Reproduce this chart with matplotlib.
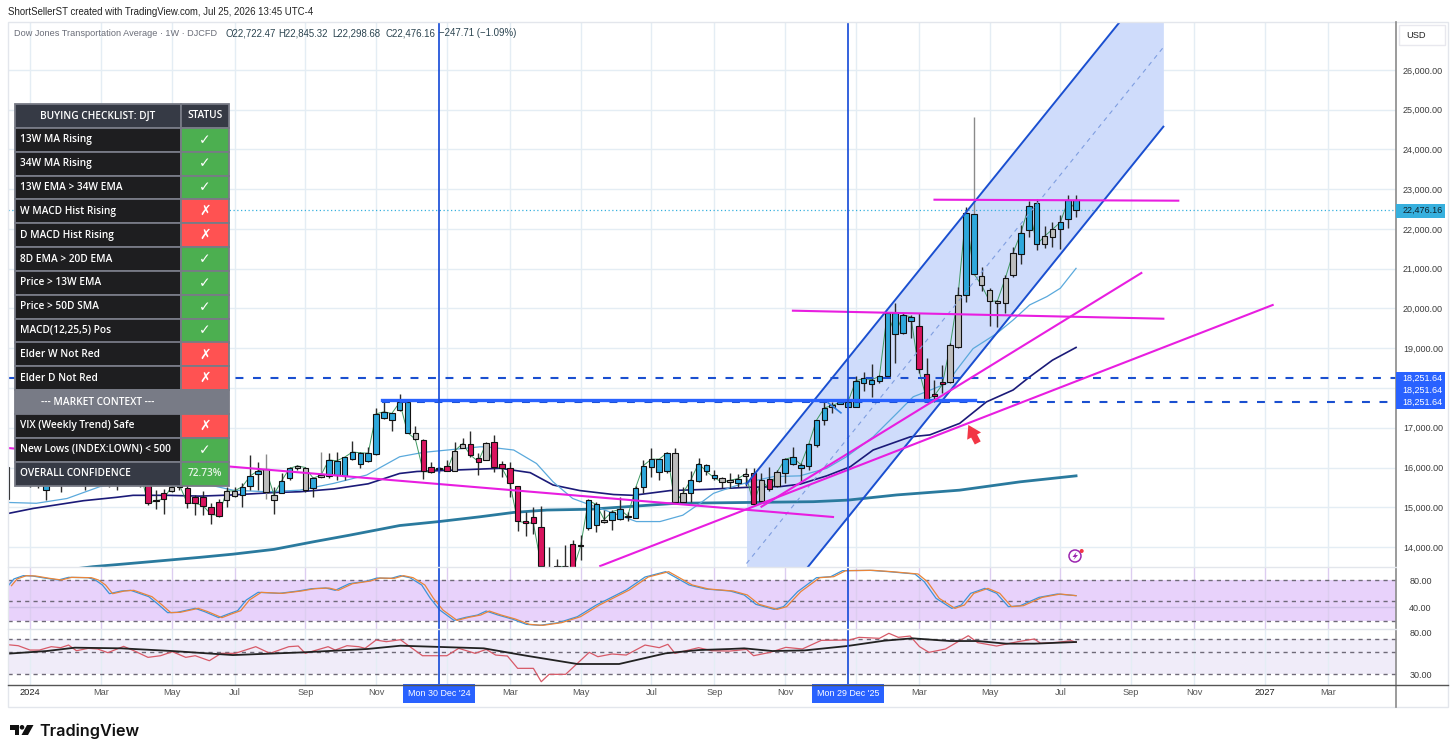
import matplotlib
matplotlib.use("Agg")
import matplotlib.pyplot as plt
from matplotlib.patches import Rectangle, Polygon, Circle
from matplotlib.transforms import blended_transform_factory as blend

nan = float("nan")
W, H = 1456, 755
UI = "Liberation Sans"

# ---- weekly candles: week 0 is the week of 30 Dec 2024 ----
first_week = -55
opens = [15220,nan,15650,15700,15700,15434,15650,15700,15700,15700,
 15700,15700,15700,15700,15700,15700,15700,15700,15800,15190,
 15350,15410,15500,15490,15250,15270,15000,15120,15180,15280,
 15310,15540,15830,15390,15180,15370,15730,15990,15430,15480,
 15750,15790,15810,15790,16210,16100,16170,16330,17240,17190,
 17450,17640,16880,16680,16020,15950,16050,15900,16500,16580,
 16250,16200,16650,16100,16000,15530,14650,14750,14500,13450,
 13520,13520,14080,14050,14470,14550,14640,14680,14700,14760,
 14740,15520,16010,15880,15900,16360,15140,15370,15650,16070,
 15820,15740,15630,15620,15780,15870,15150,15700,15530,15850,
 16080,16000,16040,16560,17190,17510,17610,17530,17520,18130,
 18110,18170,18310,19890,19390,19680,19560,18360,17840,18160,
 18140,19040,20340,22370,20820,20470,20130,20130,20830,21360,
 21970,22660,21610,21790,21990,22240,22722]
closes = [16020,nan,15800,15900,15850,15700,15850,15900,15900,15900,
 15900,15900,15900,15900,15900,15900,15900,15900,15100,15160,
 15210,15520,15560,15100,15100,15040,14820,14790,15410,15410,
 15520,15790,15920,15950,15320,15670,15980,16040,16000,15730,
 15810,16190,16170,16260,16390,16370,16360,17350,17400,17360,
 17640,16880,16710,15900,15880,16000,15920,16420,16600,16310,
 16150,16610,16020,15990,15620,14650,14610,14600,13520,13300,
 13500,13510,13400,14020,15170,15070,14690,14890,14950,14780,
 15490,16050,16210,16210,16370,15120,15350,15680,16100,15900,
 15740,15630,15680,15720,15840,15070,15690,15450,15890,16210,
 16260,16070,16580,17190,17500,17560,17640,17650,18180,18240,
 18210,18290,19895,19350,19840,19790,18470,17710,17810,18090,
 19080,20340,22410,20880,20580,20180,20190,20760,21400,21910,
 22580,21610,21820,21990,22170,22720,22476.16]
highs = [16100,nan,15900,16000,16000,15800,15950,16000,16000,16000,
 16000,16000,16000,16000,16000,16000,16000,16000,15900,15430,
 15450,15700,15700,15700,15300,15420,15100,15200,15500,15500,
 15600,16310,16150,16340,15520,15850,16020,16060,16020,15770,
 16400,16370,16400,16270,16670,16400,16520,17490,17660,17380,
 17840,17640,17050,16710,16150,16020,16190,16630,16730,16920,
 16360,16650,16820,16160,16150,15540,14870,15010,15030,14010,
 13710,14050,14180,14300,15200,15140,14930,14930,15250,14890,
 15530,16190,16480,16210,16400,16480,15520,15900,16230,16100,
 15940,15770,15850,15830,15980,15980,15850,16020,15940,16230,
 16520,16120,16620,17190,17700,17660,17670,17660,18290,18410,
 18600,18330,19920,20150,19880,19840,19890,18750,18200,18580,
 19120,20550,22560,24825,21050,20510,20210,20840,21550,22100,
 22710,22750,22080,22180,22350,22855,22845.32]
lows = [15150,nan,15600,15500,15480,15180,15600,15390,15650,15650,
 15430,15650,15650,15500,15430,15650,15650,15500,15060,14950,
 14820,15380,15440,14970,14800,14800,14570,14750,15000,15250,
 15010,15430,15430,15220,14830,15350,15690,15940,15390,15250,
 15730,15730,15690,15690,16190,16000,16150,16310,17210,16930,
 17430,16860,16690,15700,15870,15850,15900,15900,16480,16270,
 15810,16190,15880,15770,15270,14410,14280,14330,13400,13200,
 13400,13400,13300,13670,14440,14390,14600,14440,14680,14660,
 14720,15350,15770,15690,15850,15100,15120,15120,15640,15810,
 15690,15480,15480,15520,15530,15060,15140,15420,15520,15600,
 16060,15600,15940,16510,17070,17360,17590,17510,17510,17930,
 17780,18120,18290,18620,19360,19250,18370,17660,17660,17870,
 18120,19000,20170,20840,20450,19560,19540,19880,20800,21120,
 21790,21470,21530,21550,21500,22020,22298.68]
impulse = list("bbbbbbbbbb" "bbbbbbbbrr" "rgbrrrrrgg" "bbbggbbggb" "gbbbbbbbbb"
               "bbgrrbrggr" "rgrrrrrrrr" "rrrrbbgbbg" "bbbbbggbbb" "bggbgrgrgb"
               "bbbbbgbbbb" "bbbbbbrrrr" "ggbbgggggb" "bbggbbb")
gray_wick_weeks = [-22, -15, 68]

# ---- moving averages, read at the weeks listed ----
ma13_weeks = [-54.7,-51.2,-47.3,-43.1,-35.9,-28.7,-26.2,-21.9,-17.7,-13.4,-9.2,-5,-2,5.2,6,9.5,12.4,14.5,17,19.2,22.2,25.1,28.1,31,33.2,34.9,37.4,39.5,42.5,45.9,49.3,51.8,55.2,58.2,60.3,62,64.6,65.8,67.9,70.9,73,75.1,77.3,79,81]
ma13_values = [15120,15100,15220,15520,15770,15540,15430,15390,15430,15600,15810,16270,16380,16520,16520,16440,16100,15640,15220,15060,14850,14640,14640,14800,15100,15350,15520,15640,15770,15790,15980,16270,16770,17360,17780,17910,18120,18450,18990,19370,19710,20090,20300,20510,21010]
ma34_weeks = [-54.7,-51.6,-45.2,-41,-38.9,-34.6,-30.4,-26.2,-21,-17.7,-13.4,-9,-5,-2.8,0,5.2,7.8,11.6,14.5,17.9,22.2,24.7,29.4,34,39.1,43.4,45.9,49.3,52.3,55.2,59.9,62.4,66.2,69.6,73,75.1,78,81]
ma34_values = [14847,14970,15165,15250,15300,15300,15280,15310,15370,15390,15460,15590,15850,15900,15920,15960,15980,15870,15560,15420,15320,15300,15420,15450,15500,15520,15580,15790,16020,16440,16770,16820,17110,17650,17950,18280,18700,19020]
ma200_weeks = [-50,-44,-36.7,-30.4,-26.2,-21,-16,-11.3,-5,0,5.2,9.5,13.7,19.2,25.1,30.2,39.1,47.6,52,58.2,66.2,73.9,81]
ma200_values = [13360,13505,13630,13740,13820,13940,14130,14300,14540,14640,14760,14870,14930,14950,15030,15100,15120,15140,15180,15310,15430,15640,15790]

# ---- drawings: (week, price) ends ----
channel_weeks = [39.1, 92.1]
channel_upper = [15585, 28566]
channel_middle = [13585, 26570]
channel_lower = [11585, 24574]
trend_a_weeks, trend_a_prices = [20.5, 106.0], [13522, 20088]
trend_b_weeks, trend_b_prices = [41.0, 89.3], [15014, 20893]
fall_weeks, fall_prices = [-54.8, 50.1], [16490, 14755]
flat_a_weeks, flat_a_prices = [63, 94], [22737, 22712]
flat_b_weeks, flat_b_prices = [45, 92.1], [19945, 19743]
level_dash_upper = 18260
level_dash_lower = 17660
level_dash_lower_start = -7.2
level_solid_weeks, level_solid_price = [-7.2, 68.2], 17698
tick_weeks, tick_prices = [49.5, 51.1], [17625, 17375]
arrow_tip, arrow_tail = (67.3, 17070), (68.5, 16617)
last_close = 22476.16
cycle_weeks = [0, 52]

# ---- panes ----
k_weeks = [-54.76,-54.05,-52.86,-51.68,-49.9,-48.4,-47.1,-44.6,-43.7,-42.8,-41.9,-40.4,-39.2,-38.1,-36.9,-35.7,-34.5,-33.3,-31,-29.8,-28,-26.8,-25.6,-24.5,-23,-20.3,-17.9,-16.2,-14.4,-13.2,-11.4,-9.1,-7.9,-6.1,-4.9,-3.7,-2.2,-1.1,0.1,1.9,3.4,4.9,6,7.5,9.3,11.1,12.8,15.2,17.6,20,23.8,26.2,28.8,31.8,33.9,37,38.8,40.3,42.6,43.8,45.6,48,49.8,51.3,54.8,57.2,60.5,61.7,63.2,65.2,66.4,67.6,69.4,70.9,72.4,73.9,76.3,78.6,81]
k_values = [72.1,82,86.9,86.4,82.9,80.5,84.4,83.9,80.5,73.1,60.2,64.2,65.2,60.7,55.8,44.4,32.1,32.6,38.5,33.6,24.7,30.1,35.1,50.9,62.2,60.7,64.2,67.6,68.6,65.2,75,79,83.4,82.9,86.9,83.9,73.1,53.3,36,20.7,25.2,28.6,34.5,28.6,22.7,14.8,13.3,17.3,26.2,43.4,65.7,84.9,92.8,73.1,67.1,64.2,58.3,44.4,37,41,63.2,83.9,85.4,94.3,94.8,92.8,89.4,78,53.3,38.5,43.4,60.7,68.1,60.7,41,42.4,54.8,59.7,57.3]
d_weeks = [-54.36,-53.65,-52.46,-51.28,-49.5,-48,-46.7,-44.2,-43.3,-42.4,-41.5,-40,-38.8,-37.7,-36.5,-35.3,-34.1,-32.9,-30.6,-29.4,-27.6,-26.4,-25.2,-24.1,-22.6,-19.9,-17.5,-15.8,-14,-12.8,-11,-8.7,-7.5,-5.7,-4.5,-3.3,-1.8,-0.7,0.5,2.3,3.8,5.3,6.4,7.9,9.7,11.5,13.2,15.6,18,20.4,24.2,26.6,29.2,32.2,34.3,37.4,39.2,40.7,43,44.2,46,48.4,50.2,51.7,55.2,57.6,60.9,62.1,63.6,65.6,66.8,68,69.8,71.3,72.8,74.3,76.7,79,81]
d_values = [72.1,82,86.9,86.4,82.9,80.5,84.4,83.9,80.5,73.1,60.2,64.2,65.2,60.7,55.8,44.4,32.1,32.6,38.5,33.6,24.7,30.1,35.1,50.9,62.2,60.7,64.2,67.6,68.6,65.2,75,79,83.4,82.9,86.9,83.9,73.1,53.3,36,20.7,25.2,28.6,34.5,28.6,22.7,14.8,13.3,17.3,26.2,43.4,65.7,84.9,92.8,73.1,67.1,64.2,58.3,44.4,37,41,63.2,83.9,85.4,94.3,94.8,92.8,89.4,78,53.3,38.5,43.4,60.7,68.1,60.7,41,42.4,54.8,59.7,57.3]
rsi_weeks = [-54.8,-53.5,-52,-50.8,-49.3,-48.1,-47.1,-46.1,-44.6,-43.4,-42.1,-40.1,-38.7,-37,-35.4,-33.9,-32.2,-31,-29.2,-27.7,-25.9,-23.3,-21.5,-19.1,-17.9,-17,-14.1,-13.2,-11.7,-10.2,-9.4,-8,-6.7,-4.9,-3.7,-2.1,1,2.5,4.6,6,7.2,8.7,10,12,13,14,16.1,19.1,20.2,22,23.8,26.2,28,29.1,30,33,34.7,37,39.1,40,42.1,44.1,46.2,48.6,52.2,53.4,56,57.2,58.4,59.9,61.1,62.3,64.4,67.3,68.5,70.9,73.6,75.7,76.5,78.6,80.4,81]
rsi_values = [65.7,64.5,59.2,59.2,63.3,62.1,65.3,58.4,61.3,60.5,56,63.7,58,50.3,52.3,57.2,50.3,52.3,46.2,55.2,55.2,63.3,55.2,63.3,64.1,55.2,63.3,59.2,64.5,63.3,61.3,71.4,69.4,71.8,63.3,52.3,52.3,61.3,55.2,60,53.1,51.9,36.9,36.9,20.6,29.6,29.6,56.4,51.1,54.4,53.1,65.3,62.1,66.2,55.2,62.1,58.4,58,60,52.3,56.4,62.5,60.5,71,71.4,74.7,73.5,79.6,74.7,76.3,63.3,56.4,60.5,76.7,68.2,64.1,69.4,72.7,67.4,68.6,70.6,68.6]
rsi_ma_weeks = [-54.8,-49.9,-46.3,-40.4,-33.9,-26.2,-17.3,-9.1,-4.9,5.7,11.1,17.6,22.9,28.8,33,37,38.8,42.4,46.5,51.9,56.6,60.2,65,68.5,72.1,75.7,81]
rsi_ma_values = [54.8,58,62.1,61.3,58,53.1,56.4,60.5,64.5,61.3,52.3,42.2,42.2,55.2,59.2,60.5,61.3,58,58.8,64.1,70.6,73.5,70.2,70.2,67,67,69]

# ---- axes labels ----
month_weeks = [-52,-43,-34,-26,-17,-8,1,9,18,27,35,44,53,61,70,79,88,96,105,113]
month_labels = ["2024","Mar","May","Jul","Sep","Nov","","Mar","May","Jul","Sep","Nov","","Mar","May","Jul","Sep","Nov","2027","Mar"]
price_ticks = [14000,15000,16000,17000,18000,19000,20000,21000,22000,23000,24000,25000,26000]
cycle_labels = ["Mon 30 Dec '24", "Mon 29 Dec '25"]
level_labels = ["18,251.64", "18,251.64", "18,251.64"]

# ---- checklist ----
check_rows = ["13W MA Rising","34W MA Rising","13W EMA > 34W EMA","W MACD Hist Rising","D MACD Hist Rising",
              "8D EMA > 20D EMA","Price > 13W EMA","Price > 50D SMA","MACD(12,25,5) Pos","Elder W Not Red",
              "Elder D Not Red","VIX (Weekly Trend) Safe","New Lows (INDEX:LOWN) < 500"]
check_pass = [True,True,True,False,False,True,True,True,True,False,False,False,True]
confidence = "72.73%"

# ---- colours ----
GRID = "#e4edf4"; BLUE = "#1a4fd0"; MAG = "#e81ee0"
fill = {"b": "#2ea8dc", "r": "#d8145e", "g": "#bdbdbd"}

fig = plt.figure(figsize=(W / 100, H / 100), dpi=100, facecolor="white")
def box(l, t, r, b, **kw):
    return fig.add_axes([l / W, 1 - b / H, (r - l) / W, (b - t) / H], **kw)

XL = (-54.8, 121.68)
ax = box(8, 22, 1396, 567)
p1 = box(8, 567.5, 1396, 629)
p2 = box(8, 629.3, 1396, 685)
tm = box(8, 685, 1396, 707)
for a in (ax, p1, p2, tm):
    a.set_xlim(*XL)
    for s in a.spines.values():
        s.set_visible(False)
    a.set_xticks(month_weeks)
    a.tick_params(length=0, labelbottom=False)
    a.yaxis.tick_right()
    a.set_axisbelow(True)
    a.grid(True, axis="x", color=GRID, lw=1)
    a.set_yticks([])

# ---- main price pane ----
ax.set_ylim(13497, 27207)
ax.set_yticks(price_ticks)
ax.set_yticklabels([f"{v:,.2f}" for v in price_ticks], fontsize=6.5, color="#3c3c3c", family=UI)
ax.tick_params(axis="y", pad=5)
ax.grid(True, axis="y", color=GRID, lw=1)
ax.fill_between(channel_weeks, channel_lower, channel_upper, color="#cfdcfb", lw=0, zorder=1)
ax.plot(ma200_weeks, ma200_values, color="#2a7a9e", lw=2.0, zorder=2)
ax.plot(ma34_weeks, ma34_values, color="#1b1a78", lw=1.2, zorder=2)
ax.plot(ma13_weeks, ma13_values, color="#5aa9dc", lw=0.9, zorder=2)
weeks = list(range(first_week, first_week + len(opens)))
ax.plot(weeks, closes, color="#3f9a63", lw=0.7, zorder=2.5)
wick_col = ["#8a8a8a" if w in gray_wick_weeks else "#2a2a2a" for w in weeks]
ax.vlines(weeks, lows, highs, colors=wick_col, lw=1.0, zorder=2.7)
ax.bar(weeks, [abs(c - o) for o, c in zip(opens, closes)],
       bottom=[min(o, c) for o, c in zip(opens, closes)], width=0.7,
       color=[fill[c] for c in impulse], edgecolor="#111111", lw=0.8, zorder=3)
ax.plot(channel_weeks, channel_upper, color=BLUE, lw=1.4, zorder=4)
ax.plot(channel_weeks, channel_lower, color=BLUE, lw=1.4, zorder=4)
ax.plot(channel_weeks, channel_middle, color="#7f9ee0", lw=0.8, ls=(0, (4, 4)), zorder=4)
for wk, pr in ((trend_a_weeks, trend_a_prices), (trend_b_weeks, trend_b_prices), (fall_weeks, fall_prices),
               (flat_a_weeks, flat_a_prices), (flat_b_weeks, flat_b_prices)):
    ax.plot(wk, pr, color=MAG, lw=1.5, zorder=4.2)
ax.plot(tick_weeks, tick_prices, color="#2f7fe0", lw=1.2, zorder=4)
ax.plot(XL, [level_dash_upper] * 2, color=BLUE, lw=1.5, ls=(0, (3.8, 4.6)), zorder=4)
ax.plot([level_dash_lower_start, XL[1]], [level_dash_lower] * 2, color=BLUE, lw=1.5, ls=(0, (3.8, 4.6)), zorder=4)
ax.plot(level_solid_weeks, [level_solid_price] * 2, color="#2962ff", lw=2.4, zorder=4.1)
ax.plot(XL, [last_close] * 2, color="#37b0de", lw=0.9, ls=(0, (1, 2)), zorder=1.5)
ax.annotate("", xy=arrow_tip, xytext=arrow_tail, zorder=5,
            arrowprops=dict(arrowstyle="simple,head_width=0.75,head_length=0.6,tail_width=0.32", color="#f23645",
                            lw=0, mutation_scale=15, shrinkA=0, shrinkB=0))
for a in (ax, p1, p2):
    a.vlines(cycle_weeks, 0, 1, transform=a.get_xaxis_transform(), colors="#1b4fd8", lw=1.25, zorder=6)

# ---- upper oscillator ----
p1.set_ylim(7.9, 99)
p1.axhspan(20, 80, color="#e8d2fb", lw=0, zorder=0.5)
p1.grid(True, axis="x", color="#dccdf0", lw=1, zorder=0.6)
p1.axhline(40, color="#cdbfe6", lw=1, zorder=1)
for lv in (80, 50, 20):
    p1.axhline(lv, color="#6f6a78", lw=1, ls=(0, (3, 3)), zorder=1)
p1.plot(k_weeks, k_values, color="#3d94d8", lw=0.9, zorder=3)
p1.plot(d_weeks, d_values, color="#e9853a", lw=0.9, zorder=3)
p1.set_yticks([80, 40])
p1.set_yticklabels(["80.00", "40.00"], fontsize=6.5, color="#3c3c3c", family=UI)
p1.tick_params(axis="y", pad=9.5)

# ---- lower oscillator ----
p2.set_ylim(16.6, 84.5)
p2.axhspan(30, 72.3, color="#f0ecf9", lw=0, zorder=0.5)
for lv in (72.3, 56.5, 30):
    p2.axhline(lv, color="#6f6a78", lw=1, ls=(0, (3, 3)), zorder=1)
p2.plot(rsi_weeks, rsi_values, color="#d75a68", lw=0.9, zorder=3)
p2.plot(rsi_ma_weeks, rsi_ma_values, color="#222222", lw=1.3, zorder=3.2)
p2.set_yticks([80, 30])
p2.set_yticklabels(["80.00", "30.00"], fontsize=6.5, color="#3c3c3c", family=UI)
p2.tick_params(axis="y", pad=9.5)

# ---- time axis ----
tm.grid(False)
tm.set_ylim(0, 1)
tm.tick_params(axis="x", labelbottom=True, pad=-14, labelsize=6.7, labelcolor="#555555", length=0)
tm.set_xticklabels(month_labels, family=UI)
for lab, txt in zip(tm.get_xticklabels(), month_labels):
    if txt.isdigit():
        lab.set_color("#222222")
for wk, txt in zip(cycle_weeks, cycle_labels):
    tm.text(wk, 0.6, txt, ha="center", va="center", fontsize=6.4, color="white", family=UI, zorder=7,
            bbox=dict(boxstyle="square,pad=0.55", fc="#2962ff", ec="none"))

# ---- chrome ----
ch = fig.add_axes([0, 0, 1, 1], zorder=10)
ch.set_xlim(0, W); ch.set_ylim(H, 0); ch.axis("off"); ch.patch.set_alpha(0)
ch.add_patch(Rectangle((8, 22), 1440, 685, fc="none", ec="#e3e6ec", lw=1))
ch.plot([1396, 1396], [22, 707], color="#8a8a8a", lw=1.2)
ch.plot([8, 1448], [685, 685], color="#555555", lw=1.0)
ch.plot([8, 1396], [629.3, 629.3], color="#dfe3ea", lw=1)
ch.plot([8, 1396], [567.3, 567.3], color="#e3e6ec", lw=1)
ch.text(8, 12, "ShortSellerST created with TradingView.com, Jul 25, 2026 13:45 UTC-4",
        fontsize=6.9, color="#222222", family=UI, va="center")
ch.text(14, 33, "Dow Jones Transportation Average · 1W · DJCFD", fontsize=6.55, color="#6a6d78", family=UI, va="center")
for x, txt in ((225, "O22,722.47"), (278, "H22,845.32"), (332, "L22,298.68"), (385, "C22,476.16"), (439, "−247.71 (−1.09%)")):
    ch.text(x, 33, txt, fontsize=6.9, color="#2b4450", family=UI, va="center")
ch.add_patch(Rectangle((1398.5, 25), 46, 20, fc="white", ec="#e8e8ee", lw=1))
ch.text(1406, 35, "USD", fontsize=6.7, color="#222222", family=UI, va="center")
cyan_y = blend(ch.transData, ax.transData)
ch.text(1402.5, last_close, f"{last_close:,.2f}", transform=cyan_y, fontsize=6.5, color="#10222c", family=UI, va="center", zorder=3)
ch.add_patch(Rectangle((1396, 204), 49, 13.5, fc="#37b0de", ec="none", zorder=2))
ch.add_patch(Rectangle((1396, 371.7), 49, 37.6, fc="#2962ff", ec="none", zorder=2))
for yy, txt in zip((378, 390, 402.5), level_labels):
    ch.text(1402.5, yy, txt, fontsize=6.5, color="white", family=UI, va="center", zorder=3)
# lightning icon
ch.add_patch(Circle((1075, 556), 6, fc="none", ec="#9c27b0", lw=1.1))
ch.add_patch(Circle((1081.7, 551), 2, fc="#f23645", ec="none"))
ch.add_patch(Polygon([(1076.5, 552), (1072.5, 557), (1075, 557), (1073.5, 560), (1078, 555), (1075.5, 555)], fc="#9c27b0", ec="none"))
# TradingView logo
ch.add_patch(Polygon([(10, 725), (19, 725), (19, 735), (14.5, 735), (14.5, 729.5), (10, 729.5)], fc="#111111", ec="none"))
ch.add_patch(Circle((22, 727.3), 2.3, fc="#111111", ec="none"))
ch.add_patch(Polygon([(27, 725), (33.5, 725), (28, 735), (21.5, 735)], fc="#111111", ec="none"))
ch.text(39, 731, "TradingView", fontsize=11.7, color="#111111", family="Inter", va="center", weight="semibold")

# ---- checklist table ----
tb = box(15, 104, 229, 485.6, zorder=11)
tb.axis("off")
labels = ["BUYING CHECKLIST: DJT"] + check_rows[:11] + ["--- MARKET CONTEXT ---"] + check_rows[11:] + ["OVERALL CONFIDENCE"]
flags = [None] + check_pass[:11] + [None] + check_pass[11:] + [None]
status = ["STATUS"] + ["✓" if f else "✗" for f in check_pass[:11]] + [""] + ["✓" if f else "✗" for f in check_pass[11:]] + [confidence]
GREEN, RED, HEAD, ROW, CTX = "#4caf50", "#ff5252", "#363a45", "#1e1e20", "#787b86"
cols = []
for i, f in enumerate(flags):
    if i == 0:
        cols.append([HEAD, HEAD])
    elif i == 12:
        cols.append([CTX, CTX])
    elif i == len(flags) - 1:
        cols.append([HEAD, GREEN])
    else:
        cols.append([ROW, GREEN if f else RED])
tab = tb.table(cellText=[[a, b] for a, b in zip(labels, status)], cellColours=cols,
               colWidths=[0.774, 0.226], bbox=[0, 0, 1, 1], edges="closed")
tab.auto_set_font_size(False)
for (r, c), cell in tab.get_celld().items():
    cell.set_edgecolor("#787b86")
    cell.set_linewidth(1.3)
    t = cell.get_text()
    t.set_color("white")
    if c == 0:
        t.set_family("Open Sans"); t.set_fontsize(7.3); t.set_weight(600)
        if r in (0, 12):
            t.set_ha("center")
        else:
            cell.PAD = 0.03
            t.set_ha("left")
    else:
        t.set_ha("center")
        if r in (0, len(labels) - 1):
            t.set_family("Open Sans"); t.set_fontsize(7.3); t.set_weight(600)
            if r == len(labels) - 1:
                t.set_color("#e4f3e5")
        else:
            t.set_family("DejaVu Sans"); t.set_fontsize(10); t.set_weight("bold")

fig.savefig("out.png", dpi=100, facecolor="white")
